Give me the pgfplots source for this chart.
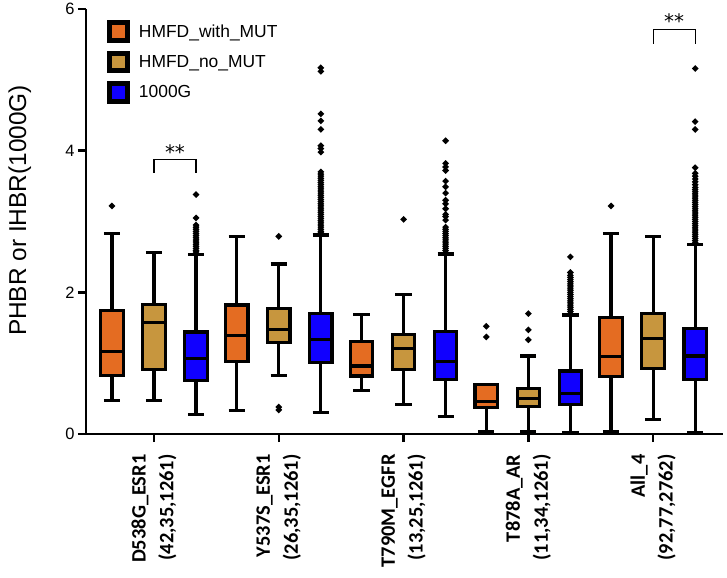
\documentclass[border=0pt]{standalone}
\usepackage{fontspec}
\setmainfont{Liberation Sans}
\newfontfamily\carlito{Carlito}
\newfontfamily\dejavu{DejaVu Sans}
\usepackage{pgfplots}
\pgfplotsset{compat=1.18}
\usepgfplotslibrary{statistics}
\definecolor{cO}{RGB}{228,108,34}
\definecolor{cT}{RGB}{199,150,62}
\definecolor{cB}{RGB}{16,0,255}
\pgfplotsset{
  bx/.style={draw=black, line width=3.2bp, mark=*, mark size=1.15bp,
    mark options={draw=none, fill=black}, forget plot},
}
\begin{document}
\begin{tikzpicture}
\path[use as bounding box] (0,0) rectangle (727bp,578bp);
\begin{axis}[
  at={(86bp,144bp)}, anchor=south west,
  scale only axis, width=637bp, height=425bp,
  xmin=-0.545, xmax=4.56, ymin=0, ymax=6,
  clip=false,
  axis x line=bottom, axis y line=left,
  axis line style={-, line width=2.4bp, black},
  tick align=outside, major tick length=8bp,
  tick style={line width=2.4bp, black},
  xtick={0,1,2,3,4},
  xticklabels={{D538G\_ESR1\\(42,35,1261)},{Y537S\_ESR1\\(26,35,1261)},{T790M\_EGFR\\(13,25,1261)},{T878A\_AR\\(11,34,1261)},{All\_4\\(92,77,2762)}},
  xticklabel style={rotate=90, anchor=east, align=right,
    font=\carlito\bfseries\fontsize{20.5}{28}\selectfont},
  xticklabel shift=9bp,
  ytick={0,2,4,6},
  yticklabel style={font=\fontsize{16.5}{16.5}\selectfont},
  /pgf/number format/assume math mode=true,
  ylabel={PHBR or IHBR(1000G)},
  ylabel style={at={(axis description cs:-0.104,0.526)}, anchor=center,
    font=\fontsize{24.5}{28}\selectfont},
  boxplot/draw direction=y,
  boxplot/box extend=0.18,
  boxplot/whisker extend=0.13,
  legend image code/.code={\draw[#1, draw=black, line width=5bp] (0bp,-8.75bp) rectangle (17.5bp,8.75bp);},
  legend style={at={(axis description cs:0.0334,0.974)}, anchor=north west,
    draw=none, fill=none, inner sep=0pt, row sep=8bp,
    font=\fontsize{17.5}{20}\selectfont, nodes={inner sep=2bp},
    /tikz/every odd column/.style={column sep=7bp}},
  legend cell align=left,
]
\addlegendimage{fill=cO}
\addlegendentry{HMFD\_with\_MUT}
\addlegendimage{fill=cT}
\addlegendentry{HMFD\_no\_MUT}
\addlegendimage{fill=cB}
\addlegendentry{1000G}

% ---- D538G_ESR1 ----
\addplot[bx, fill=cO, boxplot prepared={draw position=-0.337, lower whisker=0.47, lower quartile=0.83, median=1.17, upper quartile=1.746, upper whisker=2.835}]
  table[row sep=\\, y index=0]{data\\ 3.22\\};
\addplot[bx, fill=cT, boxplot prepared={draw position=0, lower whisker=0.47, lower quartile=0.91, median=1.57, upper quartile=1.83, upper whisker=2.56}]
  coordinates {};
\addplot[bx, fill=cB, boxplot prepared={draw position=0.337, lower whisker=0.27, lower quartile=0.76, median=1.07, upper quartile=1.44, upper whisker=2.53}]
  table[row sep=\\, y index=0]{data\\ 3.38\\ 3.05\\ 2.95\\ 2.92\\ 2.89\\ 2.86\\ 2.83\\ 2.80\\ 2.77\\ 2.74\\ 2.71\\ 2.68\\ 2.65\\ 2.62\\ 2.59\\ 2.57\\};
% ---- Y537S_ESR1 ----
\addplot[bx, fill=cO, boxplot prepared={draw position=0.663, lower whisker=0.33, lower quartile=1.02, median=1.39, upper quartile=1.82, upper whisker=2.79}]
  coordinates {};
\addplot[bx, fill=cT, boxplot prepared={draw position=1, lower whisker=0.83, lower quartile=1.29, median=1.48, upper quartile=1.77, upper whisker=2.40}]
  table[row sep=\\, y index=0]{data\\ 2.79\\ 0.38\\ 0.34\\};
\addplot[bx, fill=cB, boxplot prepared={draw position=1.337, lower whisker=0.30, lower quartile=1.01, median=1.33, upper quartile=1.70, upper whisker=2.81}]
  table[row sep=\\, y index=0]{data\\ 5.17\\ 5.12\\ 4.52\\ 4.42\\ 4.30\\ 4.07\\ 4.03\\ 3.98\\ 3.70\\ 3.67\\ 3.64\\ 3.61\\ 3.58\\ 3.55\\ 3.52\\ 3.49\\ 3.46\\ 3.43\\ 3.40\\ 3.37\\ 3.34\\ 3.31\\ 3.28\\ 3.25\\ 3.22\\ 3.19\\ 3.16\\ 3.13\\ 3.10\\ 3.07\\ 3.04\\ 3.01\\ 2.98\\ 2.95\\ 2.92\\ 2.89\\ 2.86\\ 2.84\\};
% ---- T790M_EGFR ----
\addplot[bx, fill=cO, boxplot prepared={draw position=1.663, lower whisker=0.61, lower quartile=0.82, median=0.96, upper quartile=1.31, upper whisker=1.69}]
  coordinates {};
\addplot[bx, fill=cT, boxplot prepared={draw position=2, lower whisker=0.42, lower quartile=0.91, median=1.21, upper quartile=1.41, upper whisker=1.97}]
  table[row sep=\\, y index=0]{data\\ 3.03\\};
\addplot[bx, fill=cB, boxplot prepared={draw position=2.337, lower whisker=0.25, lower quartile=0.77, median=1.02, upper quartile=1.45, upper whisker=2.54}]
  table[row sep=\\, y index=0]{data\\ 4.14\\ 3.82\\ 3.77\\ 3.72\\ 3.57\\ 3.49\\ 3.40\\ 3.30\\ 3.25\\ 3.18\\ 3.10\\ 3.07\\ 3.02\\ 2.92\\ 2.89\\ 2.86\\ 2.83\\ 2.80\\ 2.77\\ 2.74\\ 2.71\\ 2.68\\ 2.65\\ 2.62\\ 2.59\\ 2.56\\};
% ---- T878A_AR ----
\addplot[bx, fill=cO, boxplot prepared={draw position=2.663, lower whisker=0.04, lower quartile=0.375, median=0.455, upper quartile=0.70, upper whisker=0.70}]
  table[row sep=\\, y index=0]{data\\ 1.52\\ 1.37\\};
\addplot[bx, fill=cT, boxplot prepared={draw position=3, lower whisker=0.03, lower quartile=0.385, median=0.50, upper quartile=0.64, upper whisker=1.10}]
  table[row sep=\\, y index=0]{data\\ 1.70\\ 1.47\\ 1.33\\};
\addplot[bx, fill=cB, boxplot prepared={draw position=3.337, lower whisker=0.02, lower quartile=0.42, median=0.57, upper quartile=0.89, upper whisker=1.68}]
  table[row sep=\\, y index=0]{data\\ 2.50\\ 2.28\\ 2.24\\ 2.21\\ 2.18\\ 2.15\\ 2.12\\ 2.09\\ 2.06\\ 2.03\\ 2.00\\ 1.97\\ 1.94\\ 1.91\\ 1.88\\ 1.85\\ 1.82\\ 1.79\\ 1.76\\ 1.73\\ 1.70\\};
% ---- All_4 ----
\addplot[bx, fill=cO, boxplot prepared={draw position=3.663, lower whisker=0.04, lower quartile=0.81, median=1.09, upper quartile=1.65, upper whisker=2.83}]
  table[row sep=\\, y index=0]{data\\ 3.22\\};
\addplot[bx, fill=cT, boxplot prepared={draw position=4, lower whisker=0.20, lower quartile=0.92, median=1.35, upper quartile=1.70, upper whisker=2.79}]
  coordinates {};
\addplot[bx, fill=cB, boxplot prepared={draw position=4.337, lower whisker=0.02, lower quartile=0.77, median=1.10, upper quartile=1.49, upper whisker=2.67}]
  table[row sep=\\, y index=0]{data\\ 5.16\\ 4.41\\ 4.30\\ 3.76\\ 3.68\\ 3.64\\ 3.60\\ 3.56\\ 3.52\\ 3.48\\ 3.45\\ 3.42\\ 3.39\\ 3.36\\ 3.33\\ 3.30\\ 3.27\\ 3.24\\ 3.21\\ 3.18\\ 3.15\\ 3.12\\ 3.09\\ 3.06\\ 3.03\\ 3.00\\ 2.97\\ 2.94\\ 2.91\\ 2.88\\ 2.85\\ 2.82\\ 2.79\\ 2.76\\ 2.73\\ 2.70\\};

% significance brackets
\draw[line width=1.2bp] (axis cs:0,3.69) -- (axis cs:0,3.88) -- (axis cs:0.337,3.88) -- (axis cs:0.337,3.69);
\node[anchor=base, font=\dejavu\fontsize{20}{20}\selectfont, inner sep=0pt] at (axis cs:0.168,3.87) {**};
\draw[line width=1.2bp] (axis cs:4,5.51) -- (axis cs:4,5.71) -- (axis cs:4.337,5.71) -- (axis cs:4.337,5.51);
\node[anchor=base, font=\dejavu\fontsize{20}{20}\selectfont, inner sep=0pt] at (axis cs:4.168,5.72) {**};
\end{axis}
\end{tikzpicture}
\end{document}
